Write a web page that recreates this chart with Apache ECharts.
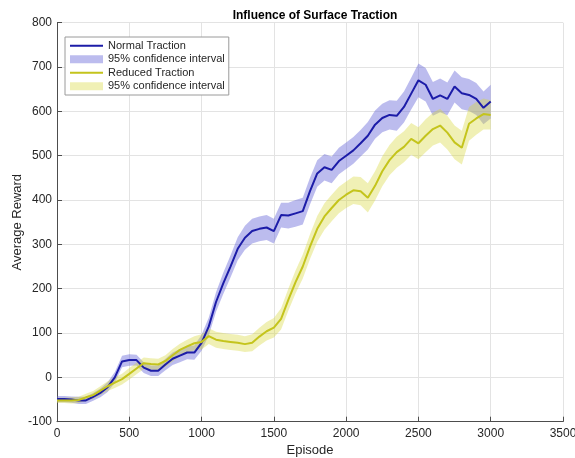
<!DOCTYPE html>
<html>
<head>
<meta charset="utf-8">
<title>Influence of Surface Traction</title>
<script src="https://cdn.jsdelivr.net/npm/echarts@6/dist/echarts.min.js"></script>
<style>
  html, body { margin: 0; padding: 0; background: #fff; }
  #chart { width: 575px; height: 458px; }
</style>
</head>
<body>
<div id="chart"></div>
<script>
// Episode index (every 50 episodes)
const episodes = [
  0, 50, 100, 150, 200, 250, 300, 350, 400, 450,
  500, 550, 600, 650, 700, 750, 800, 850, 900, 950,
  1000, 1050, 1100, 1150, 1200, 1250, 1300, 1350, 1400, 1450,
  1500, 1550, 1600, 1650, 1700, 1750, 1800, 1850, 1900, 1950,
  2000, 2050, 2100, 2150, 2200, 2250, 2300, 2350, 2400, 2450,
  2500, 2550, 2600, 2650, 2700, 2750, 2800, 2850, 2900, 2950, 3000
];

// Mean reward, normal traction
const normalMean = [
  -49, -49, -50, -52, -52, -44, -35, -22, 0, 36,
  39, 39, 22, 15, 15, 29, 42, 49, 56, 56,
  78, 115, 170, 212, 250, 290, 315, 330, 335, 338,
  330, 366, 365, 370, 375, 420, 460, 474, 468, 488,
  500, 512, 528, 545, 570, 585, 592, 590, 610, 640,
  670, 660, 628, 636, 628, 656, 641, 637, 628, 608, 622
];
// Half-width of the 95% confidence interval, normal traction
const normalCI = [
  7, 7, 7, 8, 8, 9,
  10, 11, 12, 13, 13, 12, 12, 12, 12,
  13, 14, 15, 15, 16, 18,
  20, 22, 24, 25, 26, 27, 28, 28, 28, 28,
  28, 29, 30, 30, 30, 30, 30, 30, 30, 30,
  30, 30, 31, 32, 32, 33, 34, 35, 36, 38,
  38, 38, 38, 37, 36, 36, 36, 36, 37, 38
];

// Mean reward, reduced traction
const reducedMean = [
  -52, -52, -52, -51, -45, -40, -30, -20, -12, -4,
  8, 20, 32, 30, 29, 37, 50, 62, 70, 77,
  80, 93, 85, 82, 80, 78, 75, 78, 92, 104,
  112, 132, 175, 215, 250, 295, 335, 363, 382, 400,
  412, 422, 420, 405, 432, 465, 490, 508, 520, 538,
  528, 545, 560, 568, 552, 530, 518, 572, 584, 594, 592
];
// Half-width of the 95% confidence interval, reduced traction
const reducedCI = [
  6, 6, 7, 7, 8, 9,
  10, 11, 12, 12, 13, 13, 13, 13, 13,
  13, 14, 14, 15, 16, 17,
  18, 18, 18, 18, 18, 18, 19, 20, 21, 22,
  24, 25, 26, 27, 28, 29, 30, 30, 30, 30,
  31, 32, 33, 33, 34, 34, 35, 35, 36, 36,
  37, 37, 38, 38, 38, 38, 38, 37, 35, 33
];

const xTicks = [0, 3500, 500];     // min, max, interval
const yTicks = [-100, 800, 100];   // min, max, interval

const BLUE = '#1c1ca8';
const BLUE_BAND = 'rgba(95, 95, 215, 0.42)';
const YELLOW = '#c4c41c';
const YELLOW_BAND = 'rgba(215, 215, 60, 0.38)';

// Legend swatch: a thin horizontal stroke centred in a 33x8 box
const LINE_ICON = 'path://M0,0L33,0L33,0.01L0,0.01Z M0,3.1H33V4.9H0Z M0,7.99H33V8H0Z';

const legendText = {
  normal: 'Normal Traction',
  ciNormal: '95% confidence interval',
  reduced: 'Reduced Traction',
  ciReduced: '95% confidence interval'
};

function pairs(xs, ys) {
  return xs.map((x, i) => [x, ys[i]]);
}

// Shaded band between mean - ci and mean + ci, projected through the axes
function bandSeries(name, mean, ci, fill) {
  return {
    name: name,
    type: 'custom',
    silent: true,
    z: 2,
    itemStyle: { color: fill },
    data: [[episodes[0], mean[0]]],
    renderItem: function (params, api) {
      const upper = episodes.map((x, i) => api.coord([x, mean[i] + ci[i]]));
      const lower = episodes.map((x, i) => api.coord([x, mean[i] - ci[i]])).reverse();
      return {
        type: 'polygon',
        shape: { points: upper.concat(lower) },
        style: { fill: fill, stroke: null }
      };
    }
  };
}

const plainNumber = v => String(v);

const chart = echarts.init(document.getElementById('chart'), null, { renderer: 'canvas' });

chart.setOption({
  animation: false,
  backgroundColor: '#ffffff',
  textStyle: { fontFamily: 'Liberation Sans, Arial, sans-serif' },
  title: {
    text: 'Influence of Surface Traction',
    left: 310,
    textAlign: 'center',
    top: 5,
    textStyle: { fontSize: 12, fontWeight: 'bold', color: '#000' }
  },
  grid: {
    left: 57, right: 12, top: 22.7, bottom: 36.3,
    containLabel: false,
    outerBoundsMode: 'none'
  },
  legend: {
    orient: 'vertical',
    left: 65,
    top: 37,
    padding: [3, 4, 3, 5],
    itemWidth: 33,
    itemHeight: 8,
    itemGap: 2,
    backgroundColor: '#fff',
    borderColor: '#9a9a9a',
    borderWidth: 1,
    textStyle: { fontSize: 11, color: '#262626', lineHeight: 11.5 },
    formatter: function (name) { return legendText[name]; },
    data: [
      { name: 'normal', icon: LINE_ICON, itemStyle: { color: BLUE } },
      { name: 'ciNormal', icon: 'rect', itemStyle: { color: BLUE_BAND } },
      { name: 'reduced', icon: LINE_ICON, itemStyle: { color: YELLOW } },
      { name: 'ciReduced', icon: 'rect', itemStyle: { color: YELLOW_BAND } }
    ],
    selectedMode: false
  },
  xAxis: {
    type: 'value',
    min: xTicks[0],
    max: xTicks[1],
    interval: xTicks[2],
    name: 'Episode',
    nameLocation: 'middle',
    nameGap: 22,
    nameMoveOverlap: false,
    nameTextStyle: { fontSize: 13, color: '#262626' },
    axisLine: { show: true, onZero: false, lineStyle: { color: '#4d4d4d', width: 1 } },
    axisTick: { show: true, inside: true, length: 5, lineStyle: { color: '#4d4d4d' } },
    axisLabel: { fontSize: 12, color: '#262626', margin: 6, formatter: plainNumber },
    splitLine: { show: true, lineStyle: { color: '#e3e3e3', width: 1 } }
  },
  yAxis: {
    type: 'value',
    min: yTicks[0],
    max: yTicks[1],
    interval: yTicks[2],
    name: 'Average Reward',
    nameLocation: 'middle',
    nameGap: 33,
    nameMoveOverlap: false,
    nameTextStyle: { fontSize: 13, color: '#262626' },
    axisLine: { show: true, onZero: false, lineStyle: { color: '#4d4d4d', width: 1 } },
    axisTick: { show: true, inside: true, length: 5, lineStyle: { color: '#4d4d4d' } },
    axisLabel: { fontSize: 12, color: '#262626', margin: 5, formatter: plainNumber },
    splitLine: { show: true, lineStyle: { color: '#e3e3e3', width: 1 } }
  },
  series: [
    bandSeries('ciNormal', normalMean, normalCI, BLUE_BAND),
    {
      name: 'normal',
      type: 'line',
      z: 3,
      data: pairs(episodes, normalMean),
      symbol: 'none',
      lineStyle: { color: BLUE, width: 2 },
      itemStyle: { color: BLUE }
    },
    bandSeries('ciReduced', reducedMean, reducedCI, YELLOW_BAND),
    {
      name: 'reduced',
      type: 'line',
      z: 5,
      data: pairs(episodes, reducedMean),
      symbol: 'none',
      lineStyle: { color: YELLOW, width: 2 },
      itemStyle: { color: YELLOW }
    }
  ]
});
</script>
</body>
</html>
